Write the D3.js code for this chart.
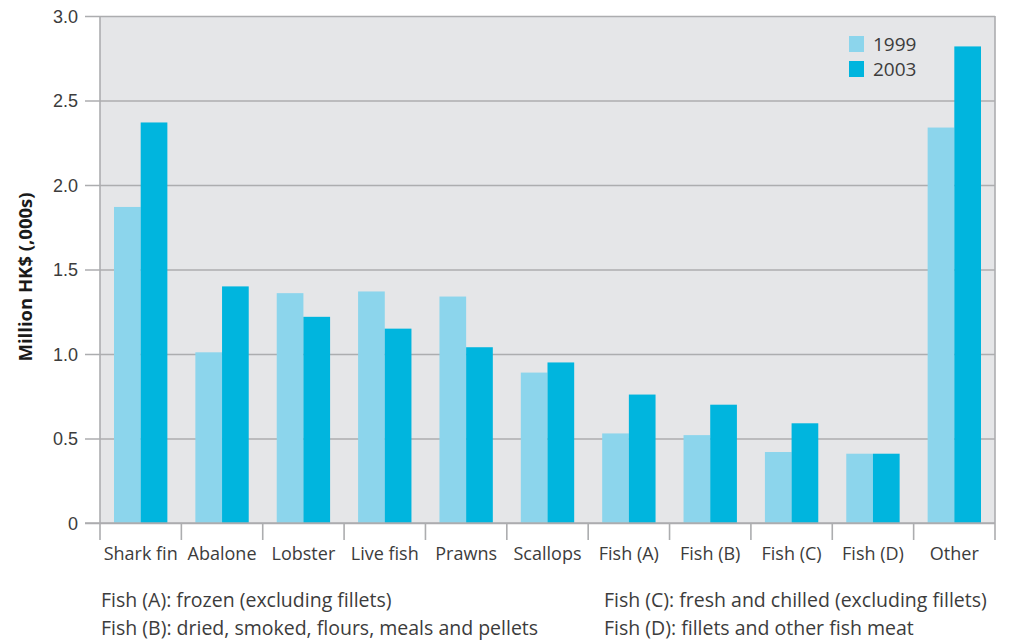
<!DOCTYPE html>
<html>
<head>
<meta charset="utf-8">
<script src="https://cdn.jsdelivr.net/npm/d3@7"></script>
<style>
  html, body { margin: 0; padding: 0; background: #fff; }
  svg { display: block; font-family: "Open Sans", "Noto Sans", sans-serif; }
</style>
</head>
<body>
<svg id="chart" width="1009" height="643"></svg>
<script>
// Hong Kong seafood imports by product group (million HK$, thousands)
const categories = ["Shark fin", "Abalone", "Lobster", "Live fish", "Prawns", "Scallops",
                    "Fish (A)", "Fish (B)", "Fish (C)", "Fish (D)", "Other"];
const years = ["1999", "2003"];
const values1999 = [1.87, 1.01, 1.36, 1.37, 1.34, 0.89, 0.53, 0.52, 0.42, 0.41, 2.34];
const values2003 = [2.37, 1.40, 1.22, 1.15, 1.04, 0.95, 0.76, 0.70, 0.59, 0.41, 2.82];
const yTicks = [0, 0.5, 1.0, 1.5, 2.0, 2.5, 3.0];
const yTitle = "Million HK$ (,000s)";
const notes = [
  "Fish (A): frozen (excluding fillets)",
  "Fish (B): dried, smoked, flours, meals and pellets",
  "Fish (C): fresh and chilled (excluding fillets)",
  "Fish (D): fillets and other fish meat"
];

const colors = { "1999": "#8cd5ec", "2003": "#00b5de" };
const gridColor = "#acadaf";
const textColor = "#3c3c3c";

const svg = d3.select("#chart");
const margin = { left: 100, right: 14, top: 16, bottom: 120 };
const W = 1009, H = 643;
const plotW = W - margin.left - margin.right;
const plotH = H - margin.top - margin.bottom;

const x = d3.scaleBand().domain(categories).range([0, plotW]).paddingInner(0).paddingOuter(0);
const xi = d3.scaleBand().domain(years).range([14, x.bandwidth() - 14]);
const y = d3.scaleLinear().domain([0, 3]).range([plotH, 0]);

const g = svg.append("g").attr("transform", `translate(${margin.left},${margin.top})`);

// plot background
g.append("rect").attr("x", 0).attr("y", 0).attr("width", plotW).attr("height", plotH)
  .attr("fill", "#e5e6e8");

// horizontal gridlines with ticks extending past the left axis
const yAxis = d3.axisLeft(y).tickValues(yTicks)
  .tickSize(-plotW - 15)
  .tickFormat(d => d === 0 ? "0" : d3.format(".1f")(d));
const ya = g.append("g").call(yAxis);
ya.select(".domain").remove();
ya.selectAll(".tick line").attr("x1", -15).attr("x2", plotW)
  .attr("stroke", gridColor).attr("stroke-width", 1.6);
ya.selectAll(".tick text").attr("x", -22).attr("fill", textColor)
  .style("font-size", "18px").attr("dy", "0.34em");

// bars
const rows = categories.map((c, i) => ({ c, v: { "1999": values1999[i], "2003": values2003[i] } }));
const groups = g.selectAll(".grp").data(rows).join("g")
  .attr("transform", d => `translate(${x(d.c)},0)`);
groups.selectAll("rect").data(d => years.map(yr => ({ yr, v: d.v[yr] }))).join("rect")
  .attr("x", d => xi(d.yr))
  .attr("width", xi.bandwidth())
  .attr("y", d => y(d.v))
  .attr("height", d => plotH - y(d.v))
  .attr("fill", d => colors[d.yr]);

// vertical axis lines on both sides
[0, plotW].forEach(px => {
  g.append("line").attr("x1", px).attr("x2", px).attr("y1", 0).attr("y2", plotH + 17)
    .attr("stroke", gridColor).attr("stroke-width", 1.6);
});

// x axis with category separators
const xAxis = g.append("g").attr("transform", `translate(0,${plotH})`);
xAxis.append("line").attr("x1", -15).attr("x2", plotW).attr("stroke", gridColor).attr("stroke-width", 1.6);
categories.slice(1).forEach(c => {
  xAxis.append("line").attr("x1", x(c)).attr("x2", x(c)).attr("y1", 0).attr("y2", 17)
    .attr("stroke", gridColor).attr("stroke-width", 1.6);
});
xAxis.selectAll(".lbl").data(categories).join("text")
  .attr("x", d => x(d) + x.bandwidth() / 2)
  .attr("y", 37)
  .attr("text-anchor", "middle")
  .attr("fill", textColor)
  .style("font-size", "18px")
  .text(d => d);

// y axis title
svg.append("text")
  .attr("transform", "translate(32,277) rotate(-90)")
  .attr("text-anchor", "middle")
  .attr("fill", "#1a1a1a")
  .style("font-size", "18.5px").style("font-weight", "700")
  .text(yTitle);

// legend
const lg = svg.append("g").attr("transform", "translate(849,36)");
years.forEach((yr, i) => {
  lg.append("rect").attr("x", 0).attr("y", i * 25).attr("width", 15).attr("height", 16)
    .attr("fill", colors[yr]);
  lg.append("text").attr("x", 24).attr("y", i * 25 + 15).attr("fill", textColor)
    .style("font-size", "19px").text(yr);
});

// footnotes
const noteX = [101, 101, 604, 604];
const noteY = [607, 635, 607, 635];
svg.selectAll(".note").data(notes).join("text")
  .attr("x", (d, i) => noteX[i]).attr("y", (d, i) => noteY[i])
  .attr("fill", textColor).style("font-size", "19.5px")
  .text(d => d);
</script>
</body>
</html>
